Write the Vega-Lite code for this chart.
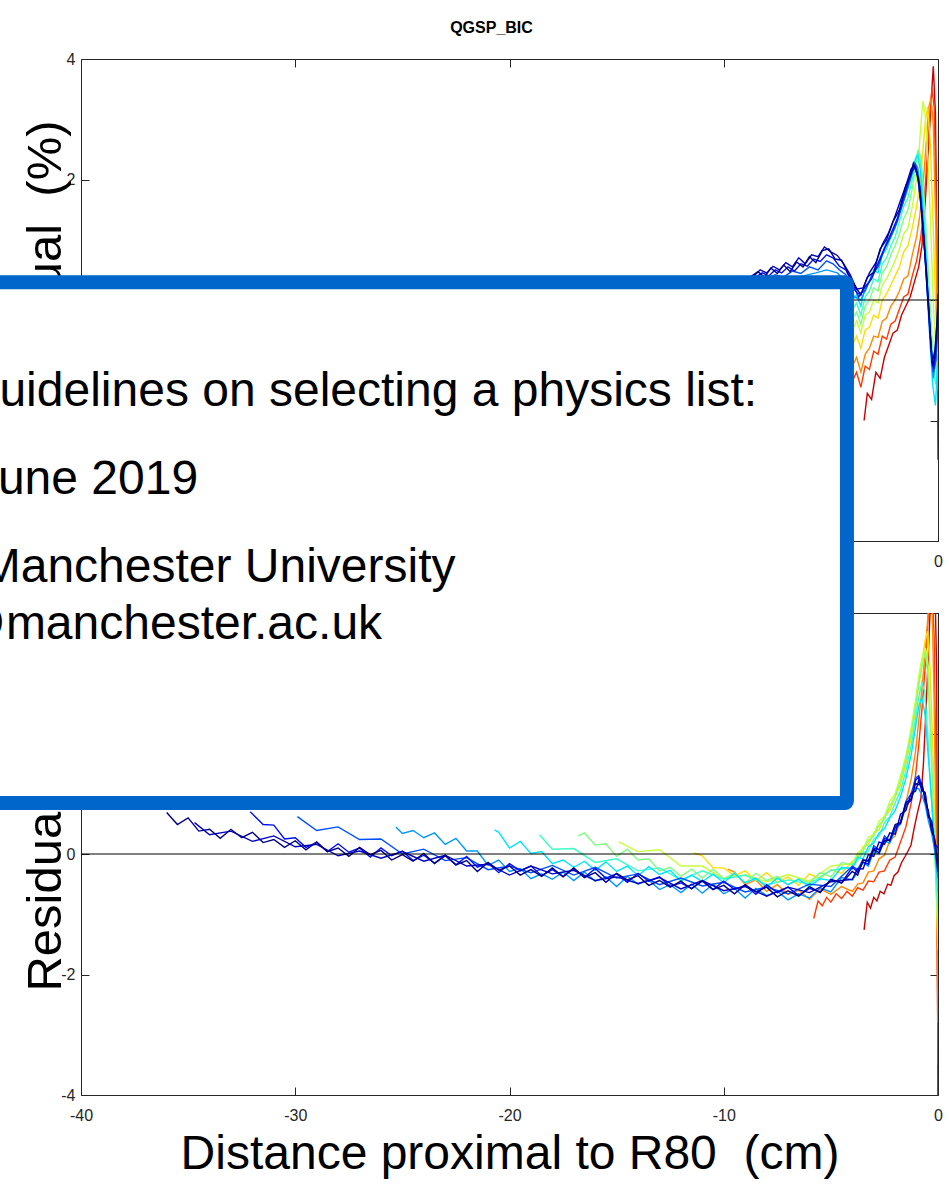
{
"$schema": "https://vega.github.io/schema/vega-lite/v6.json",
"background": "white",
"padding": {"left": -60, "top": 19, "right": 0, "bottom": 0},
"config": {
  "font": "Liberation Sans",
  "view": {"stroke": "#262626", "strokeWidth": 1},
  "axis": {"grid": false, "domain": false, "tickColor": "#262626", "tickWidth": 1, "labelColor": "#262626", "labelFont": "Liberation Sans", "labelFontSize": 16, "labelFlush": false, "titleFont": "Liberation Sans", "titleFontWeight": "normal", "titleColor": "#000000"}
},
"datasets": {
"top": [
{"s":"s01","x":-3.45,"y":-2.0},{"s":"s01","x":-3.3,"y":-1.55},{"s":"s01","x":-3.1,"y":-1.65},{"s":"s01","x":-2.9,"y":-1.2},{"s":"s01","x":-2.7,"y":-1.3},{"s":"s01","x":-2.5,"y":-0.95},{"s":"s01","x":-2.3,"y":-0.75},{"s":"s01","x":-2.1,"y":-0.55},{"s":"s01","x":-1.9,"y":-0.5},{"s":"s01","x":-1.7,"y":-0.25},{"s":"s01","x":-1.5,"y":-0.1},{"s":"s01","x":-1.3,"y":0.05},{"s":"s01","x":-1.1,"y":0.3},{"s":"s01","x":-0.9,"y":0.55},{"s":"s01","x":-0.75,"y":0.9},{"s":"s01","x":-0.6,"y":1.6},{"s":"s01","x":-0.45,"y":2.5},{"s":"s01","x":-0.32,"y":3.3},{"s":"s01","x":-0.22,"y":3.88},{"s":"s01","x":-0.12,"y":3.1},{"s":"s01","x":-0.05,"y":1.0},{"s":"s01","x":0,"y":-2.65},
{"s":"s02","x":-5.8,"y":-0.8},{"s":"s02","x":-4.3,"y":-1.1},{"s":"s02","x":-4.0,"y":-1.35},{"s":"s02","x":-3.8,"y":-1.2},{"s":"s02","x":-3.6,"y":-1.45},{"s":"s02","x":-3.4,"y":-1.1},{"s":"s02","x":-3.2,"y":-1.15},{"s":"s02","x":-3.0,"y":-0.85},{"s":"s02","x":-2.8,"y":-0.9},{"s":"s02","x":-2.6,"y":-0.6},{"s":"s02","x":-2.4,"y":-0.65},{"s":"s02","x":-2.2,"y":-0.4},{"s":"s02","x":-2.0,"y":-0.35},{"s":"s02","x":-1.8,"y":-0.15},{"s":"s02","x":-1.6,"y":0.05},{"s":"s02","x":-1.4,"y":0.1},{"s":"s02","x":-1.2,"y":0.4},{"s":"s02","x":-1.0,"y":0.65},{"s":"s02","x":-0.8,"y":1.05},{"s":"s02","x":-0.65,"y":1.6},{"s":"s02","x":-0.5,"y":2.4},{"s":"s02","x":-0.38,"y":3.1},{"s":"s02","x":-0.28,"y":3.5},{"s":"s02","x":-0.18,"y":3.2},{"s":"s02","x":-0.08,"y":1.5},{"s":"s02","x":0,"y":-2.0},
{"s":"s03","x":-9.8,"y":0.0},{"s":"s03","x":-7,"y":-0.6},{"s":"s03","x":-4.3,"y":-0.85},{"s":"s03","x":-4.0,"y":-1.1},{"s":"s03","x":-3.8,"y":-0.95},{"s":"s03","x":-3.6,"y":-1.2},{"s":"s03","x":-3.4,"y":-0.9},{"s":"s03","x":-3.2,"y":-0.8},{"s":"s03","x":-3.0,"y":-0.6},{"s":"s03","x":-2.8,"y":-0.62},{"s":"s03","x":-2.6,"y":-0.35},{"s":"s03","x":-2.4,"y":-0.3},{"s":"s03","x":-2.2,"y":-0.1},{"s":"s03","x":-2.0,"y":0.0},{"s":"s03","x":-1.8,"y":0.15},{"s":"s03","x":-1.6,"y":0.35},{"s":"s03","x":-1.4,"y":0.4},{"s":"s03","x":-1.2,"y":0.75},{"s":"s03","x":-1.0,"y":1.05},{"s":"s03","x":-0.85,"y":1.4},{"s":"s03","x":-0.7,"y":1.9},{"s":"s03","x":-0.55,"y":2.6},{"s":"s03","x":-0.43,"y":3.2},{"s":"s03","x":-0.33,"y":3.35},{"s":"s03","x":-0.22,"y":2.9},{"s":"s03","x":-0.1,"y":1.2},{"s":"s03","x":0,"y":-1.5},
{"s":"s04","x":-11.4,"y":0.0},{"s":"s04","x":-8,"y":-0.4},{"s":"s04","x":-6,"y":-0.5},{"s":"s04","x":-4.3,"y":-0.55},{"s":"s04","x":-4.0,"y":-0.75},{"s":"s04","x":-3.8,"y":-0.6},{"s":"s04","x":-3.6,"y":-0.8},{"s":"s04","x":-3.4,"y":-0.5},{"s":"s04","x":-3.2,"y":-0.45},{"s":"s04","x":-3.0,"y":-0.25},{"s":"s04","x":-2.8,"y":-0.3},{"s":"s04","x":-2.6,"y":0.0},{"s":"s04","x":-2.4,"y":0.1},{"s":"s04","x":-2.2,"y":0.25},{"s":"s04","x":-2.0,"y":0.4},{"s":"s04","x":-1.8,"y":0.55},{"s":"s04","x":-1.6,"y":0.8},{"s":"s04","x":-1.4,"y":0.9},{"s":"s04","x":-1.2,"y":1.2},{"s":"s04","x":-1.0,"y":1.55},{"s":"s04","x":-0.85,"y":1.9},{"s":"s04","x":-0.7,"y":2.5},{"s":"s04","x":-0.58,"y":3.0},{"s":"s04","x":-0.48,"y":3.2},{"s":"s04","x":-0.36,"y":2.6},{"s":"s04","x":-0.22,"y":1.2},{"s":"s04","x":-0.1,"y":-0.2},{"s":"s04","x":0,"y":-1.1},
{"s":"s05","x":-14.9,"y":0.0},{"s":"s05","x":-10,"y":-0.3},{"s":"s05","x":-7,"y":-0.4},{"s":"s05","x":-4.3,"y":-0.3},{"s":"s05","x":-4.0,"y":-0.5},{"s":"s05","x":-3.8,"y":-0.35},{"s":"s05","x":-3.6,"y":-0.55},{"s":"s05","x":-3.4,"y":-0.25},{"s":"s05","x":-3.2,"y":-0.2},{"s":"s05","x":-3.0,"y":0.0},{"s":"s05","x":-2.8,"y":-0.05},{"s":"s05","x":-2.6,"y":0.25},{"s":"s05","x":-2.4,"y":0.35},{"s":"s05","x":-2.2,"y":0.5},{"s":"s05","x":-2.0,"y":0.65},{"s":"s05","x":-1.8,"y":0.85},{"s":"s05","x":-1.6,"y":1.1},{"s":"s05","x":-1.4,"y":1.2},{"s":"s05","x":-1.2,"y":1.55},{"s":"s05","x":-1.0,"y":2.0},{"s":"s05","x":-0.88,"y":2.5},{"s":"s05","x":-0.78,"y":3.0},{"s":"s05","x":-0.7,"y":3.3},{"s":"s05","x":-0.6,"y":3.1},{"s":"s05","x":-0.48,"y":2.4},{"s":"s05","x":-0.35,"y":1.3},{"s":"s05","x":-0.2,"y":-0.2},{"s":"s05","x":-0.08,"y":-0.9},{"s":"s05","x":0,"y":-0.7},
{"s":"s06","x":-16.8,"y":0.0},{"s":"s06","x":-12,"y":-0.2},{"s":"s06","x":-8,"y":-0.3},{"s":"s06","x":-6,"y":-0.3},{"s":"s06","x":-4.3,"y":-0.15},{"s":"s06","x":-4.0,"y":-0.3},{"s":"s06","x":-3.8,"y":-0.2},{"s":"s06","x":-3.6,"y":-0.4},{"s":"s06","x":-3.4,"y":-0.1},{"s":"s06","x":-3.2,"y":0.0},{"s":"s06","x":-3.0,"y":0.2},{"s":"s06","x":-2.8,"y":0.15},{"s":"s06","x":-2.6,"y":0.45},{"s":"s06","x":-2.4,"y":0.55},{"s":"s06","x":-2.2,"y":0.75},{"s":"s06","x":-2.0,"y":0.9},{"s":"s06","x":-1.8,"y":1.1},{"s":"s06","x":-1.6,"y":1.35},{"s":"s06","x":-1.4,"y":1.5},{"s":"s06","x":-1.2,"y":1.85},{"s":"s06","x":-1.05,"y":2.2},{"s":"s06","x":-0.92,"y":2.5},{"s":"s06","x":-0.8,"y":2.35},{"s":"s06","x":-0.65,"y":1.7},{"s":"s06","x":-0.5,"y":0.8},{"s":"s06","x":-0.35,"y":-0.2},{"s":"s06","x":-0.2,"y":-1.1},{"s":"s06","x":-0.08,"y":-1.3},{"s":"s06","x":0,"y":-0.8},
{"s":"s07","x":-18.6,"y":0.0},{"s":"s07","x":-14,"y":-0.2},{"s":"s07","x":-9,"y":-0.3},{"s":"s07","x":-6,"y":-0.2},{"s":"s07","x":-4.3,"y":0.0},{"s":"s07","x":-4.0,"y":-0.15},{"s":"s07","x":-3.8,"y":-0.05},{"s":"s07","x":-3.6,"y":-0.25},{"s":"s07","x":-3.4,"y":0.05},{"s":"s07","x":-3.2,"y":0.15},{"s":"s07","x":-3.0,"y":0.35},{"s":"s07","x":-2.8,"y":0.3},{"s":"s07","x":-2.6,"y":0.6},{"s":"s07","x":-2.4,"y":0.7},{"s":"s07","x":-2.2,"y":0.9},{"s":"s07","x":-2.0,"y":1.05},{"s":"s07","x":-1.8,"y":1.3},{"s":"s07","x":-1.6,"y":1.55},{"s":"s07","x":-1.4,"y":1.7},{"s":"s07","x":-1.2,"y":2.0},{"s":"s07","x":-1.05,"y":2.3},{"s":"s07","x":-0.95,"y":2.45},{"s":"s07","x":-0.82,"y":2.3},{"s":"s07","x":-0.68,"y":1.6},{"s":"s07","x":-0.52,"y":0.6},{"s":"s07","x":-0.38,"y":-0.4},{"s":"s07","x":-0.22,"y":-1.2},{"s":"s07","x":-0.1,"y":-1.4},{"s":"s07","x":0,"y":-1.0},
{"s":"s08","x":-20.7,"y":0.0},{"s":"s08","x":-15,"y":-0.2},{"s":"s08","x":-10,"y":-0.3},{"s":"s08","x":-6,"y":-0.1},{"s":"s08","x":-4.3,"y":0.1},{"s":"s08","x":-4.0,"y":0.0},{"s":"s08","x":-3.8,"y":0.08},{"s":"s08","x":-3.6,"y":-0.1},{"s":"s08","x":-3.4,"y":0.2},{"s":"s08","x":-3.2,"y":0.3},{"s":"s08","x":-3.0,"y":0.5},{"s":"s08","x":-2.8,"y":0.45},{"s":"s08","x":-2.6,"y":0.75},{"s":"s08","x":-2.4,"y":0.85},{"s":"s08","x":-2.2,"y":1.05},{"s":"s08","x":-2.0,"y":1.2},{"s":"s08","x":-1.8,"y":1.45},{"s":"s08","x":-1.6,"y":1.7},{"s":"s08","x":-1.4,"y":1.85},{"s":"s08","x":-1.2,"y":2.1},{"s":"s08","x":-1.05,"y":2.35},{"s":"s08","x":-0.95,"y":2.4},{"s":"s08","x":-0.82,"y":2.15},{"s":"s08","x":-0.68,"y":1.4},{"s":"s08","x":-0.52,"y":0.4},{"s":"s08","x":-0.38,"y":-0.6},{"s":"s08","x":-0.25,"y":-1.4},{"s":"s08","x":-0.12,"y":-1.75},{"s":"s08","x":0,"y":-0.9},
{"s":"s09","x":-25.3,"y":0.0},{"s":"s09","x":-20,"y":-0.1},{"s":"s09","x":-14,"y":-0.05},{"s":"s09","x":-9,"y":0.1},{"s":"s09","x":-8.0,"y":0.25},{"s":"s09","x":-7.0,"y":0.32},{"s":"s09","x":-6.3,"y":0.4},{"s":"s09","x":-5.7,"y":0.45},{"s":"s09","x":-5.2,"y":0.5},{"s":"s09","x":-4.7,"y":0.45},{"s":"s09","x":-4.2,"y":0.28},{"s":"s09","x":-3.9,"y":0.05},{"s":"s09","x":-3.6,"y":0.0},{"s":"s09","x":-3.3,"y":0.25},{"s":"s09","x":-3.0,"y":0.45},{"s":"s09","x":-2.7,"y":0.7},{"s":"s09","x":-2.4,"y":0.95},{"s":"s09","x":-2.1,"y":1.15},{"s":"s09","x":-1.8,"y":1.45},{"s":"s09","x":-1.5,"y":1.75},{"s":"s09","x":-1.3,"y":2.0},{"s":"s09","x":-1.1,"y":2.28},{"s":"s09","x":-0.95,"y":2.2},{"s":"s09","x":-0.8,"y":1.8},{"s":"s09","x":-0.65,"y":1.0},{"s":"s09","x":-0.5,"y":0.1},{"s":"s09","x":-0.35,"y":-0.8},{"s":"s09","x":-0.22,"y":-1.3},{"s":"s09","x":-0.1,"y":-1.0},{"s":"s09","x":0,"y":-0.4},
{"s":"s10","x":-29.9,"y":0.05},{"s":"s10","x":-24,"y":-0.05},{"s":"s10","x":-18,"y":-0.1},{"s":"s10","x":-12,"y":0.0},{"s":"s10","x":-9,"y":0.15},{"s":"s10","x":-8.0,"y":0.35},{"s":"s10","x":-7.6,"y":0.42},{"s":"s10","x":-7.2,"y":0.38},{"s":"s10","x":-6.8,"y":0.48},{"s":"s10","x":-6.4,"y":0.44},{"s":"s10","x":-6.0,"y":0.55},{"s":"s10","x":-5.6,"y":0.5},{"s":"s10","x":-5.2,"y":0.65},{"s":"s10","x":-4.9,"y":0.6},{"s":"s10","x":-4.6,"y":0.5},{"s":"s10","x":-4.3,"y":0.42},{"s":"s10","x":-4.0,"y":0.2},{"s":"s10","x":-3.7,"y":0.1},{"s":"s10","x":-3.4,"y":0.15},{"s":"s10","x":-3.1,"y":0.4},{"s":"s10","x":-2.8,"y":0.55},{"s":"s10","x":-2.5,"y":0.85},{"s":"s10","x":-2.2,"y":1.05},{"s":"s10","x":-1.9,"y":1.3},{"s":"s10","x":-1.6,"y":1.65},{"s":"s10","x":-1.4,"y":1.9},{"s":"s10","x":-1.2,"y":2.12},{"s":"s10","x":-1.05,"y":2.25},{"s":"s10","x":-0.9,"y":2.0},{"s":"s10","x":-0.75,"y":1.5},{"s":"s10","x":-0.6,"y":0.8},{"s":"s10","x":-0.45,"y":0.0},{"s":"s10","x":-0.33,"y":-0.75},{"s":"s10","x":-0.22,"y":-1.2},{"s":"s10","x":-0.1,"y":-1.0},{"s":"s10","x":0,"y":-0.4},
{"s":"s11","x":-32.1,"y":0.1},{"s":"s11","x":-26,"y":0.0},{"s":"s11","x":-20,"y":-0.1},{"s":"s11","x":-14,"y":-0.05},{"s":"s11","x":-10,"y":0.1},{"s":"s11","x":-8.5,"y":0.38},{"s":"s11","x":-8.2,"y":0.45},{"s":"s11","x":-7.9,"y":0.4},{"s":"s11","x":-7.6,"y":0.5},{"s":"s11","x":-7.3,"y":0.45},{"s":"s11","x":-7.0,"y":0.55},{"s":"s11","x":-6.7,"y":0.48},{"s":"s11","x":-6.4,"y":0.6},{"s":"s11","x":-6.1,"y":0.56},{"s":"s11","x":-5.8,"y":0.68},{"s":"s11","x":-5.5,"y":0.64},{"s":"s11","x":-5.2,"y":0.75},{"s":"s11","x":-4.9,"y":0.7},{"s":"s11","x":-4.6,"y":0.56},{"s":"s11","x":-4.3,"y":0.5},{"s":"s11","x":-4.0,"y":0.28},{"s":"s11","x":-3.7,"y":0.05},{"s":"s11","x":-3.4,"y":0.22},{"s":"s11","x":-3.1,"y":0.35},{"s":"s11","x":-2.8,"y":0.6},{"s":"s11","x":-2.5,"y":0.85},{"s":"s11","x":-2.2,"y":1.1},{"s":"s11","x":-1.9,"y":1.35},{"s":"s11","x":-1.65,"y":1.65},{"s":"s11","x":-1.4,"y":1.95},{"s":"s11","x":-1.2,"y":2.15},{"s":"s11","x":-1.05,"y":2.2},{"s":"s11","x":-0.9,"y":1.95},{"s":"s11","x":-0.75,"y":1.4},{"s":"s11","x":-0.6,"y":0.7},{"s":"s11","x":-0.45,"y":-0.1},{"s":"s11","x":-0.32,"y":-0.8},{"s":"s11","x":-0.2,"y":-1.15},{"s":"s11","x":-0.1,"y":-0.8},{"s":"s11","x":0,"y":-0.3},
{"s":"s12","x":-34.7,"y":0.1},{"s":"s12","x":-28,"y":0.0},{"s":"s12","x":-22,"y":-0.1},{"s":"s12","x":-16,"y":-0.05},{"s":"s12","x":-11,"y":0.05},{"s":"s12","x":-9,"y":0.25},{"s":"s12","x":-8.3,"y":0.5},{"s":"s12","x":-8.0,"y":0.45},{"s":"s12","x":-7.7,"y":0.56},{"s":"s12","x":-7.4,"y":0.5},{"s":"s12","x":-7.1,"y":0.62},{"s":"s12","x":-6.8,"y":0.55},{"s":"s12","x":-6.5,"y":0.7},{"s":"s12","x":-6.2,"y":0.6},{"s":"s12","x":-5.9,"y":0.75},{"s":"s12","x":-5.6,"y":0.72},{"s":"s12","x":-5.3,"y":0.88},{"s":"s12","x":-5.0,"y":0.8},{"s":"s12","x":-4.7,"y":0.74},{"s":"s12","x":-4.4,"y":0.6},{"s":"s12","x":-4.1,"y":0.42},{"s":"s12","x":-3.8,"y":0.18},{"s":"s12","x":-3.5,"y":0.2},{"s":"s12","x":-3.2,"y":0.45},{"s":"s12","x":-2.9,"y":0.62},{"s":"s12","x":-2.6,"y":0.92},{"s":"s12","x":-2.3,"y":1.12},{"s":"s12","x":-2.0,"y":1.4},{"s":"s12","x":-1.7,"y":1.7},{"s":"s12","x":-1.45,"y":1.95},{"s":"s12","x":-1.25,"y":2.18},{"s":"s12","x":-1.1,"y":2.22},{"s":"s12","x":-0.95,"y":2.05},{"s":"s12","x":-0.8,"y":1.6},{"s":"s12","x":-0.65,"y":0.95},{"s":"s12","x":-0.5,"y":0.15},{"s":"s12","x":-0.37,"y":-0.55},{"s":"s12","x":-0.26,"y":-1.1},{"s":"s12","x":-0.14,"y":-0.95},{"s":"s12","x":-0.04,"y":-0.3},{"s":"s12","x":0,"y":0.1},
{"s":"s13","x":-36,"y":0.15},{"s":"s13","x":-30,"y":0.05},{"s":"s13","x":-24,"y":-0.05},{"s":"s13","x":-18,"y":-0.1},{"s":"s13","x":-12,"y":0.0},{"s":"s13","x":-9.5,"y":0.2},{"s":"s13","x":-8.4,"y":0.47},{"s":"s13","x":-8.1,"y":0.38},{"s":"s13","x":-7.8,"y":0.53},{"s":"s13","x":-7.5,"y":0.44},{"s":"s13","x":-7.2,"y":0.58},{"s":"s13","x":-6.9,"y":0.47},{"s":"s13","x":-6.6,"y":0.63},{"s":"s13","x":-6.3,"y":0.55},{"s":"s13","x":-6.0,"y":0.72},{"s":"s13","x":-5.7,"y":0.62},{"s":"s13","x":-5.4,"y":0.82},{"s":"s13","x":-5.1,"y":0.85},{"s":"s13","x":-4.8,"y":0.68},{"s":"s13","x":-4.5,"y":0.66},{"s":"s13","x":-4.2,"y":0.44},{"s":"s13","x":-3.9,"y":0.25},{"s":"s13","x":-3.6,"y":0.08},{"s":"s13","x":-3.3,"y":0.38},{"s":"s13","x":-3.0,"y":0.46},{"s":"s13","x":-2.7,"y":0.85},{"s":"s13","x":-2.4,"y":1.0},{"s":"s13","x":-2.1,"y":1.3},{"s":"s13","x":-1.8,"y":1.5},{"s":"s13","x":-1.5,"y":1.9},{"s":"s13","x":-1.3,"y":2.05},{"s":"s13","x":-1.15,"y":2.27},{"s":"s13","x":-1.0,"y":2.15},{"s":"s13","x":-0.85,"y":1.88},{"s":"s13","x":-0.7,"y":1.2},{"s":"s13","x":-0.55,"y":0.5},{"s":"s13","x":-0.4,"y":-0.3},{"s":"s13","x":-0.28,"y":-1.05},{"s":"s13","x":-0.15,"y":-0.85},{"s":"s13","x":-0.05,"y":-0.4},{"s":"s13","x":0,"y":-0.05}
],
"bot": [
{"s":"s01","x":-3.45,"y":-1.26},{"s":"s01","x":-3.3,"y":-0.8},{"s":"s01","x":-3.15,"y":-0.9},{"s":"s01","x":-3.0,"y":-0.72},{"s":"s01","x":-2.85,"y":-0.78},{"s":"s01","x":-2.7,"y":-0.62},{"s":"s01","x":-2.52,"y":-0.66},{"s":"s01","x":-2.35,"y":-0.5},{"s":"s01","x":-2.2,"y":-0.52},{"s":"s01","x":-2.05,"y":-0.36},{"s":"s01","x":-1.87,"y":-0.3},{"s":"s01","x":-1.7,"y":-0.14},{"s":"s01","x":-1.55,"y":-0.05},{"s":"s01","x":-1.4,"y":0.05},{"s":"s01","x":-1.26,"y":0.15},{"s":"s01","x":-1.1,"y":0.45},{"s":"s01","x":-0.95,"y":0.7},{"s":"s01","x":-0.8,"y":0.92},{"s":"s01","x":-0.68,"y":1.5},{"s":"s01","x":-0.56,"y":2.4},{"s":"s01","x":-0.45,"y":3.3},{"s":"s01","x":-0.35,"y":4.2},{"s":"s01","x":-0.25,"y":4.6},{"s":"s01","x":-0.15,"y":4.6},{"s":"s01","x":-0.06,"y":3.0},{"s":"s01","x":0,"y":-4.6},
{"s":"s02","x":-5.8,"y":-1.07},{"s":"s02","x":-5.6,"y":-0.78},{"s":"s02","x":-5.4,"y":-0.86},{"s":"s02","x":-5.2,"y":-0.72},{"s":"s02","x":-5.0,"y":-0.8},{"s":"s02","x":-4.75,"y":-0.66},{"s":"s02","x":-4.5,"y":-0.74},{"s":"s02","x":-4.25,"y":-0.62},{"s":"s02","x":-4.0,"y":-0.7},{"s":"s02","x":-3.75,"y":-0.56},{"s":"s02","x":-3.5,"y":-0.6},{"s":"s02","x":-3.25,"y":-0.45},{"s":"s02","x":-3.0,"y":-0.46},{"s":"s02","x":-2.75,"y":-0.3},{"s":"s02","x":-2.5,"y":-0.28},{"s":"s02","x":-2.25,"y":-0.1},{"s":"s02","x":-2.0,"y":-0.05},{"s":"s02","x":-1.75,"y":0.2},{"s":"s02","x":-1.5,"y":0.45},{"s":"s02","x":-1.25,"y":0.85},{"s":"s02","x":-1.05,"y":1.3},{"s":"s02","x":-0.9,"y":1.8},{"s":"s02","x":-0.75,"y":2.4},{"s":"s02","x":-0.6,"y":3.1},{"s":"s02","x":-0.48,"y":3.8},{"s":"s02","x":-0.38,"y":4.3},{"s":"s02","x":-0.28,"y":4.5},{"s":"s02","x":-0.18,"y":3.6},{"s":"s02","x":-0.1,"y":1.5},{"s":"s02","x":0,"y":-3.5},
{"s":"s03","x":-9.8,"y":-0.25},{"s":"s03","x":-9.5,"y":-0.3},{"s":"s03","x":-9,"y":-0.51},{"s":"s03","x":-8.5,"y":-0.43},{"s":"s03","x":-8,"y":-0.62},{"s":"s03","x":-7.5,"y":-0.51},{"s":"s03","x":-7,"y":-0.67},{"s":"s03","x":-6.5,"y":-0.6},{"s":"s03","x":-6,"y":-0.75},{"s":"s03","x":-5.5,"y":-0.58},{"s":"s03","x":-5,"y":-0.67},{"s":"s03","x":-4.5,"y":-0.54},{"s":"s03","x":-4,"y":-0.62},{"s":"s03","x":-3.75,"y":-0.5},{"s":"s03","x":-3.5,"y":-0.48},{"s":"s03","x":-3.25,"y":-0.3},{"s":"s03","x":-3,"y":-0.28},{"s":"s03","x":-2.75,"y":-0.08},{"s":"s03","x":-2.5,"y":-0.02},{"s":"s03","x":-2.25,"y":0.22},{"s":"s03","x":-2,"y":0.3},{"s":"s03","x":-1.75,"y":0.55},{"s":"s03","x":-1.5,"y":0.85},{"s":"s03","x":-1.25,"y":1.25},{"s":"s03","x":-1.05,"y":1.7},{"s":"s03","x":-0.9,"y":2.2},{"s":"s03","x":-0.75,"y":2.75},{"s":"s03","x":-0.6,"y":3.35},{"s":"s03","x":-0.48,"y":3.9},{"s":"s03","x":-0.38,"y":4.3},{"s":"s03","x":-0.28,"y":4.2},{"s":"s03","x":-0.18,"y":2.5},{"s":"s03","x":-0.08,"y":0.0},{"s":"s03","x":0,"y":-2.8},
{"s":"s04","x":-11.4,"y":0.02},{"s":"s04","x":-11,"y":-0.03},{"s":"s04","x":-10.5,"y":-0.23},{"s":"s04","x":-10,"y":-0.23},{"s":"s04","x":-9.5,"y":-0.36},{"s":"s04","x":-9,"y":-0.28},{"s":"s04","x":-8.5,"y":-0.44},{"s":"s04","x":-8,"y":-0.31},{"s":"s04","x":-7.5,"y":-0.47},{"s":"s04","x":-7,"y":-0.38},{"s":"s04","x":-6.5,"y":-0.52},{"s":"s04","x":-6,"y":-0.33},{"s":"s04","x":-5.5,"y":-0.41},{"s":"s04","x":-5,"y":-0.26},{"s":"s04","x":-4.5,"y":-0.32},{"s":"s04","x":-4,"y":-0.12},{"s":"s04","x":-3.75,"y":-0.08},{"s":"s04","x":-3.5,"y":0.12},{"s":"s04","x":-3.25,"y":0.15},{"s":"s04","x":-3,"y":0.35},{"s":"s04","x":-2.75,"y":0.4},{"s":"s04","x":-2.5,"y":0.62},{"s":"s04","x":-2.25,"y":0.72},{"s":"s04","x":-2,"y":0.95},{"s":"s04","x":-1.75,"y":1.15},{"s":"s04","x":-1.5,"y":1.5},{"s":"s04","x":-1.25,"y":1.95},{"s":"s04","x":-1.05,"y":2.4},{"s":"s04","x":-0.9,"y":2.85},{"s":"s04","x":-0.75,"y":3.2},{"s":"s04","x":-0.6,"y":3.55},{"s":"s04","x":-0.48,"y":3.7},{"s":"s04","x":-0.36,"y":3.0},{"s":"s04","x":-0.22,"y":1.5},{"s":"s04","x":-0.1,"y":-0.3},{"s":"s04","x":0,"y":-1.6},
{"s":"s05","x":-14.9,"y":0.2},{"s":"s05","x":-14,"y":0.04},{"s":"s05","x":-13,"y":0.07},{"s":"s05","x":-12,"y":-0.2},{"s":"s05","x":-11,"y":-0.2},{"s":"s05","x":-10,"y":-0.41},{"s":"s05","x":-9,"y":-0.35},{"s":"s05","x":-8,"y":-0.46},{"s":"s05","x":-7,"y":-0.34},{"s":"s05","x":-6,"y":-0.45},{"s":"s05","x":-5,"y":-0.2},{"s":"s05","x":-4,"y":-0.16},{"s":"s05","x":-3.75,"y":0.02},{"s":"s05","x":-3.5,"y":0.08},{"s":"s05","x":-3.25,"y":0.28},{"s":"s05","x":-3,"y":0.32},{"s":"s05","x":-2.75,"y":0.55},{"s":"s05","x":-2.5,"y":0.62},{"s":"s05","x":-2.25,"y":0.88},{"s":"s05","x":-2,"y":1.0},{"s":"s05","x":-1.75,"y":1.3},{"s":"s05","x":-1.5,"y":1.62},{"s":"s05","x":-1.25,"y":2.1},{"s":"s05","x":-1.05,"y":2.55},{"s":"s05","x":-0.9,"y":2.95},{"s":"s05","x":-0.75,"y":3.25},{"s":"s05","x":-0.58,"y":3.42},{"s":"s05","x":-0.45,"y":3.1},{"s":"s05","x":-0.32,"y":2.0},{"s":"s05","x":-0.18,"y":0.5},{"s":"s05","x":-0.06,"y":-0.8},{"s":"s05","x":0,"y":-1.4},
{"s":"s06","x":-16.8,"y":0.3},{"s":"s06","x":-16.5,"y":0.35},{"s":"s06","x":-16,"y":0.15},{"s":"s06","x":-15.5,"y":0.17},{"s":"s06","x":-15,"y":-0.04},{"s":"s06","x":-14.5,"y":0.08},{"s":"s06","x":-14,"y":-0.1},{"s":"s06","x":-13.5,"y":-0.08},{"s":"s06","x":-13,"y":-0.28},{"s":"s06","x":-12.5,"y":-0.22},{"s":"s06","x":-12,"y":-0.37},{"s":"s06","x":-11.5,"y":-0.25},{"s":"s06","x":-11,"y":-0.4},{"s":"s06","x":-10.5,"y":-0.25},{"s":"s06","x":-10,"y":-0.41},{"s":"s06","x":-9.5,"y":-0.32},{"s":"s06","x":-9,"y":-0.48},{"s":"s06","x":-8.5,"y":-0.32},{"s":"s06","x":-8,"y":-0.44},{"s":"s06","x":-7.5,"y":-0.37},{"s":"s06","x":-7,"y":-0.51},{"s":"s06","x":-6.5,"y":-0.41},{"s":"s06","x":-6,"y":-0.48},{"s":"s06","x":-5.5,"y":-0.31},{"s":"s06","x":-5,"y":-0.38},{"s":"s06","x":-4.5,"y":-0.14},{"s":"s06","x":-4,"y":-0.18},{"s":"s06","x":-3.75,"y":-0.02},{"s":"s06","x":-3.5,"y":0.05},{"s":"s06","x":-3.25,"y":0.22},{"s":"s06","x":-3,"y":0.3},{"s":"s06","x":-2.75,"y":0.48},{"s":"s06","x":-2.5,"y":0.58},{"s":"s06","x":-2.25,"y":0.8},{"s":"s06","x":-2,"y":0.95},{"s":"s06","x":-1.75,"y":1.22},{"s":"s06","x":-1.5,"y":1.55},{"s":"s06","x":-1.25,"y":2.0},{"s":"s06","x":-1.05,"y":2.45},{"s":"s06","x":-0.9,"y":2.8},{"s":"s06","x":-0.75,"y":3.1},{"s":"s06","x":-0.6,"y":3.35},{"s":"s06","x":-0.48,"y":3.0},{"s":"s06","x":-0.35,"y":2.0},{"s":"s06","x":-0.2,"y":0.6},{"s":"s06","x":-0.08,"y":-0.6},{"s":"s06","x":0,"y":-1.2},
{"s":"s07","x":-18.6,"y":0.32},{"s":"s07","x":-18,"y":0.08},{"s":"s07","x":-17,"y":0.09},{"s":"s07","x":-16,"y":-0.14},{"s":"s07","x":-15,"y":-0.08},{"s":"s07","x":-14,"y":-0.28},{"s":"s07","x":-13,"y":-0.23},{"s":"s07","x":-12,"y":-0.43},{"s":"s07","x":-11,"y":-0.28},{"s":"s07","x":-10,"y":-0.42},{"s":"s07","x":-9,"y":-0.35},{"s":"s07","x":-8,"y":-0.51},{"s":"s07","x":-7,"y":-0.43},{"s":"s07","x":-6,"y":-0.5},{"s":"s07","x":-5,"y":-0.27},{"s":"s07","x":-4,"y":-0.22},{"s":"s07","x":-3.75,"y":-0.1},{"s":"s07","x":-3.5,"y":0.02},{"s":"s07","x":-3.25,"y":0.05},{"s":"s07","x":-3,"y":0.25},{"s":"s07","x":-2.75,"y":0.3},{"s":"s07","x":-2.5,"y":0.52},{"s":"s07","x":-2.25,"y":0.62},{"s":"s07","x":-2,"y":0.85},{"s":"s07","x":-1.75,"y":1.05},{"s":"s07","x":-1.5,"y":1.38},{"s":"s07","x":-1.25,"y":1.8},{"s":"s07","x":-1.05,"y":2.25},{"s":"s07","x":-0.9,"y":2.6},{"s":"s07","x":-0.75,"y":2.85},{"s":"s07","x":-0.62,"y":2.7},{"s":"s07","x":-0.48,"y":2.0},{"s":"s07","x":-0.32,"y":1.0},{"s":"s07","x":-0.15,"y":0.0},{"s":"s07","x":0,"y":-0.9},
{"s":"s08","x":-20.7,"y":0.4},{"s":"s08","x":-20.5,"y":0.36},{"s":"s08","x":-20,"y":0.1},{"s":"s08","x":-19.5,"y":0.21},{"s":"s08","x":-19,"y":0.01},{"s":"s08","x":-18.5,"y":0.04},{"s":"s08","x":-18,"y":-0.16},{"s":"s08","x":-17.5,"y":-0.1},{"s":"s08","x":-17,"y":-0.22},{"s":"s08","x":-16.5,"y":-0.12},{"s":"s08","x":-16,"y":-0.27},{"s":"s08","x":-15.5,"y":-0.13},{"s":"s08","x":-15,"y":-0.29},{"s":"s08","x":-14.5,"y":-0.2},{"s":"s08","x":-14,"y":-0.36},{"s":"s08","x":-13.5,"y":-0.21},{"s":"s08","x":-13,"y":-0.34},{"s":"s08","x":-12.5,"y":-0.27},{"s":"s08","x":-12,"y":-0.45},{"s":"s08","x":-11.5,"y":-0.35},{"s":"s08","x":-11,"y":-0.46},{"s":"s08","x":-10.5,"y":-0.33},{"s":"s08","x":-10,"y":-0.48},{"s":"s08","x":-9.5,"y":-0.32},{"s":"s08","x":-9,"y":-0.48},{"s":"s08","x":-8.5,"y":-0.4},{"s":"s08","x":-8,"y":-0.55},{"s":"s08","x":-7.5,"y":-0.4},{"s":"s08","x":-7,"y":-0.51},{"s":"s08","x":-6.5,"y":-0.42},{"s":"s08","x":-6,"y":-0.54},{"s":"s08","x":-5.5,"y":-0.41},{"s":"s08","x":-5,"y":-0.44},{"s":"s08","x":-4.5,"y":-0.22},{"s":"s08","x":-4,"y":-0.25},{"s":"s08","x":-3.75,"y":-0.05},{"s":"s08","x":-3.5,"y":-0.08},{"s":"s08","x":-3.25,"y":0.12},{"s":"s08","x":-3,"y":0.18},{"s":"s08","x":-2.75,"y":0.35},{"s":"s08","x":-2.5,"y":0.42},{"s":"s08","x":-2.25,"y":0.6},{"s":"s08","x":-2,"y":0.72},{"s":"s08","x":-1.75,"y":0.95},{"s":"s08","x":-1.5,"y":1.25},{"s":"s08","x":-1.25,"y":1.65},{"s":"s08","x":-1.05,"y":2.1},{"s":"s08","x":-0.9,"y":2.45},{"s":"s08","x":-0.75,"y":2.6},{"s":"s08","x":-0.6,"y":2.3},{"s":"s08","x":-0.45,"y":1.6},{"s":"s08","x":-0.3,"y":0.9},{"s":"s08","x":-0.15,"y":0.1},{"s":"s08","x":0,"y":-0.6},
{"s":"s09","x":-25.3,"y":0.45},{"s":"s09","x":-25,"y":0.34},{"s":"s09","x":-24.5,"y":0.39},{"s":"s09","x":-24,"y":0.27},{"s":"s09","x":-23.5,"y":0.35},{"s":"s09","x":-23,"y":0.16},{"s":"s09","x":-22.5,"y":0.26},{"s":"s09","x":-22,"y":0.05},{"s":"s09","x":-21.5,"y":0.05},{"s":"s09","x":-21,"y":-0.19},{"s":"s09","x":-20.5,"y":-0.1},{"s":"s09","x":-20,"y":-0.29},{"s":"s09","x":-19.5,"y":-0.24},{"s":"s09","x":-19,"y":-0.41},{"s":"s09","x":-18.5,"y":-0.33},{"s":"s09","x":-18,"y":-0.42},{"s":"s09","x":-17.5,"y":-0.3},{"s":"s09","x":-17,"y":-0.44},{"s":"s09","x":-16.5,"y":-0.3},{"s":"s09","x":-16,"y":-0.45},{"s":"s09","x":-15.5,"y":-0.38},{"s":"s09","x":-15,"y":-0.54},{"s":"s09","x":-14.5,"y":-0.37},{"s":"s09","x":-14,"y":-0.5},{"s":"s09","x":-13.5,"y":-0.43},{"s":"s09","x":-13,"y":-0.59},{"s":"s09","x":-12.5,"y":-0.51},{"s":"s09","x":-12,"y":-0.64},{"s":"s09","x":-11.5,"y":-0.5},{"s":"s09","x":-11,"y":-0.65},{"s":"s09","x":-10.5,"y":-0.5},{"s":"s09","x":-10,"y":-0.66},{"s":"s09","x":-9.5,"y":-0.57},{"s":"s09","x":-9,"y":-0.73},{"s":"s09","x":-8.5,"y":-0.57},{"s":"s09","x":-8,"y":-0.69},{"s":"s09","x":-7.5,"y":-0.62},{"s":"s09","x":-7,"y":-0.76},{"s":"s09","x":-6.5,"y":-0.66},{"s":"s09","x":-6,"y":-0.73},{"s":"s09","x":-5.5,"y":-0.56},{"s":"s09","x":-5,"y":-0.63},{"s":"s09","x":-4.5,"y":-0.39},{"s":"s09","x":-4,"y":-0.43},{"s":"s09","x":-3.75,"y":-0.3},{"s":"s09","x":-3.5,"y":-0.14},{"s":"s09","x":-3.25,"y":-0.2},{"s":"s09","x":-3,"y":0.05},{"s":"s09","x":-2.75,"y":0.0},{"s":"s09","x":-2.5,"y":0.22},{"s":"s09","x":-2.25,"y":0.18},{"s":"s09","x":-2,"y":0.4},{"s":"s09","x":-1.75,"y":0.5},{"s":"s09","x":-1.5,"y":0.78},{"s":"s09","x":-1.25,"y":0.92},{"s":"s09","x":-1.05,"y":1.1},{"s":"s09","x":-0.9,"y":1.08},{"s":"s09","x":-0.75,"y":0.98},{"s":"s09","x":-0.6,"y":0.82},{"s":"s09","x":-0.45,"y":0.55},{"s":"s09","x":-0.3,"y":0.35},{"s":"s09","x":-0.15,"y":0.05},{"s":"s09","x":0,"y":-0.4},
{"s":"s10","x":-29.9,"y":0.62},{"s":"s10","x":-29,"y":0.39},{"s":"s10","x":-28,"y":0.45},{"s":"s10","x":-27,"y":0.24},{"s":"s10","x":-26,"y":0.25},{"s":"s10","x":-25,"y":0.0},{"s":"s10","x":-24,"y":0.08},{"s":"s10","x":-23,"y":-0.11},{"s":"s10","x":-22,"y":-0.06},{"s":"s10","x":-21,"y":-0.26},{"s":"s10","x":-20,"y":-0.2},{"s":"s10","x":-19,"y":-0.31},{"s":"s10","x":-18,"y":-0.19},{"s":"s10","x":-17,"y":-0.35},{"s":"s10","x":-16,"y":-0.22},{"s":"s10","x":-15,"y":-0.4},{"s":"s10","x":-14,"y":-0.33},{"s":"s10","x":-13,"y":-0.51},{"s":"s10","x":-12,"y":-0.4},{"s":"s10","x":-11,"y":-0.53},{"s":"s10","x":-10,"y":-0.47},{"s":"s10","x":-9,"y":-0.63},{"s":"s10","x":-8,"y":-0.55},{"s":"s10","x":-7,"y":-0.66},{"s":"s10","x":-6,"y":-0.5},{"s":"s10","x":-5,"y":-0.54},{"s":"s10","x":-4,"y":-0.2},{"s":"s10","x":-3.75,"y":-0.26},{"s":"s10","x":-3.5,"y":-0.09},{"s":"s10","x":-3.25,"y":-0.13},{"s":"s10","x":-3,"y":0.14},{"s":"s10","x":-2.75,"y":0.07},{"s":"s10","x":-2.5,"y":0.3},{"s":"s10","x":-2.25,"y":0.22},{"s":"s10","x":-2,"y":0.46},{"s":"s10","x":-1.75,"y":0.51},{"s":"s10","x":-1.5,"y":0.87},{"s":"s10","x":-1.25,"y":1.0},{"s":"s10","x":-1.05,"y":1.26},{"s":"s10","x":-0.9,"y":1.3},{"s":"s10","x":-0.75,"y":1.14},{"s":"s10","x":-0.6,"y":0.95},{"s":"s10","x":-0.45,"y":0.65},{"s":"s10","x":-0.3,"y":0.5},{"s":"s10","x":-0.15,"y":0.2},{"s":"s10","x":0,"y":-0.1},
{"s":"s11","x":-32.1,"y":0.7},{"s":"s11","x":-31.5,"y":0.49},{"s":"s11","x":-31,"y":0.48},{"s":"s11","x":-30.5,"y":0.25},{"s":"s11","x":-30,"y":0.27},{"s":"s11","x":-29.5,"y":0.11},{"s":"s11","x":-29,"y":0.19},{"s":"s11","x":-28.5,"y":0.04},{"s":"s11","x":-28,"y":0.17},{"s":"s11","x":-27.5,"y":0.03},{"s":"s11","x":-27,"y":0.1},{"s":"s11","x":-26.5,"y":-0.05},{"s":"s11","x":-26,"y":0.1},{"s":"s11","x":-25.5,"y":-0.03},{"s":"s11","x":-25,"y":0.05},{"s":"s11","x":-24.5,"y":-0.11},{"s":"s11","x":-24,"y":-0.02},{"s":"s11","x":-23.5,"y":-0.15},{"s":"s11","x":-23,"y":-0.03},{"s":"s11","x":-22.5,"y":-0.18},{"s":"s11","x":-22,"y":-0.04},{"s":"s11","x":-21.5,"y":-0.22},{"s":"s11","x":-21,"y":-0.15},{"s":"s11","x":-20.5,"y":-0.31},{"s":"s11","x":-20,"y":-0.16},{"s":"s11","x":-19.5,"y":-0.28},{"s":"s11","x":-19,"y":-0.2},{"s":"s11","x":-18.5,"y":-0.36},{"s":"s11","x":-18,"y":-0.26},{"s":"s11","x":-17.5,"y":-0.37},{"s":"s11","x":-17,"y":-0.24},{"s":"s11","x":-16.5,"y":-0.39},{"s":"s11","x":-16,"y":-0.24},{"s":"s11","x":-15.5,"y":-0.4},{"s":"s11","x":-15,"y":-0.33},{"s":"s11","x":-14.5,"y":-0.47},{"s":"s11","x":-14,"y":-0.32},{"s":"s11","x":-13.5,"y":-0.45},{"s":"s11","x":-13,"y":-0.38},{"s":"s11","x":-12.5,"y":-0.54},{"s":"s11","x":-12,"y":-0.48},{"s":"s11","x":-11.5,"y":-0.57},{"s":"s11","x":-11,"y":-0.45},{"s":"s11","x":-10.5,"y":-0.59},{"s":"s11","x":-10,"y":-0.45},{"s":"s11","x":-9.5,"y":-0.59},{"s":"s11","x":-9,"y":-0.52},{"s":"s11","x":-8.5,"y":-0.67},{"s":"s11","x":-8,"y":-0.51},{"s":"s11","x":-7.5,"y":-0.64},{"s":"s11","x":-7,"y":-0.55},{"s":"s11","x":-6.5,"y":-0.69},{"s":"s11","x":-6,"y":-0.57},{"s":"s11","x":-5.5,"y":-0.63},{"s":"s11","x":-5,"y":-0.43},{"s":"s11","x":-4.5,"y":-0.48},{"s":"s11","x":-4,"y":-0.22},{"s":"s11","x":-3.75,"y":-0.3},{"s":"s11","x":-3.5,"y":-0.13},{"s":"s11","x":-3.25,"y":-0.17},{"s":"s11","x":-3,"y":0.1},{"s":"s11","x":-2.75,"y":0.07},{"s":"s11","x":-2.5,"y":0.26},{"s":"s11","x":-2.25,"y":0.22},{"s":"s11","x":-2,"y":0.44},{"s":"s11","x":-1.75,"y":0.51},{"s":"s11","x":-1.5,"y":0.82},{"s":"s11","x":-1.25,"y":0.89},{"s":"s11","x":-1.05,"y":1.22},{"s":"s11","x":-0.9,"y":1.28},{"s":"s11","x":-0.75,"y":1.08},{"s":"s11","x":-0.6,"y":1.0},{"s":"s11","x":-0.45,"y":0.61},{"s":"s11","x":-0.3,"y":0.53},{"s":"s11","x":-0.15,"y":0.17},{"s":"s11","x":0,"y":0.1},
{"s":"s12","x":-34.7,"y":0.52},{"s":"s12","x":-34,"y":0.32},{"s":"s12","x":-33,"y":0.38},{"s":"s12","x":-32,"y":0.21},{"s":"s12","x":-31,"y":0.3},{"s":"s12","x":-30,"y":0.12},{"s":"s12","x":-29,"y":0.16},{"s":"s12","x":-28,"y":-0.03},{"s":"s12","x":-27,"y":0.05},{"s":"s12","x":-26,"y":-0.07},{"s":"s12","x":-25,"y":0.04},{"s":"s12","x":-24,"y":-0.12},{"s":"s12","x":-23,"y":-0.02},{"s":"s12","x":-22,"y":-0.2},{"s":"s12","x":-21,"y":-0.17},{"s":"s12","x":-20,"y":-0.35},{"s":"s12","x":-19,"y":-0.2},{"s":"s12","x":-18,"y":-0.33},{"s":"s12","x":-17,"y":-0.27},{"s":"s12","x":-16,"y":-0.44},{"s":"s12","x":-15,"y":-0.38},{"s":"s12","x":-14,"y":-0.49},{"s":"s12","x":-13,"y":-0.39},{"s":"s12","x":-12,"y":-0.58},{"s":"s12","x":-11,"y":-0.44},{"s":"s12","x":-10,"y":-0.61},{"s":"s12","x":-9,"y":-0.54},{"s":"s12","x":-8,"y":-0.7},{"s":"s12","x":-7,"y":-0.55},{"s":"s12","x":-6,"y":-0.64},{"s":"s12","x":-5,"y":-0.46},{"s":"s12","x":-4,"y":-0.42},{"s":"s12","x":-3.75,"y":-0.24},{"s":"s12","x":-3.5,"y":-0.25},{"s":"s12","x":-3.25,"y":-0.01},{"s":"s12","x":-3,"y":-0.04},{"s":"s12","x":-2.75,"y":0.2},{"s":"s12","x":-2.5,"y":0.16},{"s":"s12","x":-2.25,"y":0.35},{"s":"s12","x":-2,"y":0.33},{"s":"s12","x":-1.75,"y":0.66},{"s":"s12","x":-1.5,"y":0.72},{"s":"s12","x":-1.25,"y":1.01},{"s":"s12","x":-1.05,"y":1.04},{"s":"s12","x":-0.9,"y":1.22},{"s":"s12","x":-0.75,"y":1.05},{"s":"s12","x":-0.6,"y":1.02},{"s":"s12","x":-0.45,"y":0.64},{"s":"s12","x":-0.3,"y":0.55},{"s":"s12","x":-0.15,"y":0.16},{"s":"s12","x":0,"y":-0.3},
{"s":"s13","x":-36,"y":0.69},{"s":"s13","x":-35.5,"y":0.49},{"s":"s13","x":-35,"y":0.6},{"s":"s13","x":-34.5,"y":0.38},{"s":"s13","x":-34,"y":0.41},{"s":"s13","x":-33.5,"y":0.26},{"s":"s13","x":-33,"y":0.41},{"s":"s13","x":-32.5,"y":0.27},{"s":"s13","x":-32,"y":0.36},{"s":"s13","x":-31.5,"y":0.19},{"s":"s13","x":-31,"y":0.24},{"s":"s13","x":-30.5,"y":0.11},{"s":"s13","x":-30,"y":0.22},{"s":"s13","x":-29.5,"y":0.07},{"s":"s13","x":-29,"y":0.2},{"s":"s13","x":-28.5,"y":0.04},{"s":"s13","x":-28,"y":0.1},{"s":"s13","x":-27.5,"y":-0.04},{"s":"s13","x":-27,"y":0.11},{"s":"s13","x":-26.5,"y":-0.01},{"s":"s13","x":-26,"y":0.06},{"s":"s13","x":-25.5,"y":-0.1},{"s":"s13","x":-25,"y":-0.01},{"s":"s13","x":-24.5,"y":-0.12},{"s":"s13","x":-24,"y":0.01},{"s":"s13","x":-23.5,"y":-0.16},{"s":"s13","x":-23,"y":-0.02},{"s":"s13","x":-22.5,"y":-0.18},{"s":"s13","x":-22,"y":-0.11},{"s":"s13","x":-21.5,"y":-0.29},{"s":"s13","x":-21,"y":-0.14},{"s":"s13","x":-20.5,"y":-0.27},{"s":"s13","x":-20,"y":-0.2},{"s":"s13","x":-19.5,"y":-0.35},{"s":"s13","x":-19,"y":-0.26},{"s":"s13","x":-18.5,"y":-0.37},{"s":"s13","x":-18,"y":-0.23},{"s":"s13","x":-17.5,"y":-0.38},{"s":"s13","x":-17,"y":-0.23},{"s":"s13","x":-16.5,"y":-0.39},{"s":"s13","x":-16,"y":-0.31},{"s":"s13","x":-15.5,"y":-0.47},{"s":"s13","x":-15,"y":-0.32},{"s":"s13","x":-14.5,"y":-0.43},{"s":"s13","x":-14,"y":-0.36},{"s":"s13","x":-13.5,"y":-0.52},{"s":"s13","x":-13,"y":-0.44},{"s":"s13","x":-12.5,"y":-0.55},{"s":"s13","x":-12,"y":-0.45},{"s":"s13","x":-11.5,"y":-0.58},{"s":"s13","x":-11,"y":-0.44},{"s":"s13","x":-10.5,"y":-0.59},{"s":"s13","x":-10,"y":-0.52},{"s":"s13","x":-9.5,"y":-0.66},{"s":"s13","x":-9,"y":-0.51},{"s":"s13","x":-8.5,"y":-0.63},{"s":"s13","x":-8,"y":-0.55},{"s":"s13","x":-7.5,"y":-0.71},{"s":"s13","x":-7,"y":-0.61},{"s":"s13","x":-6.5,"y":-0.7},{"s":"s13","x":-6,"y":-0.54},{"s":"s13","x":-5.5,"y":-0.64},{"s":"s13","x":-5,"y":-0.42},{"s":"s13","x":-4.5,"y":-0.48},{"s":"s13","x":-4,"y":-0.29},{"s":"s13","x":-3.75,"y":-0.35},{"s":"s13","x":-3.5,"y":-0.1},{"s":"s13","x":-3.25,"y":-0.11},{"s":"s13","x":-3,"y":0.08},{"s":"s13","x":-2.75,"y":0.02},{"s":"s13","x":-2.5,"y":0.22},{"s":"s13","x":-2.25,"y":0.23},{"s":"s13","x":-2,"y":0.49},{"s":"s13","x":-1.75,"y":0.52},{"s":"s13","x":-1.5,"y":0.85},{"s":"s13","x":-1.25,"y":0.91},{"s":"s13","x":-1.05,"y":1.17},{"s":"s13","x":-0.9,"y":1.15},{"s":"s13","x":-0.75,"y":1.18},{"s":"s13","x":-0.6,"y":0.87},{"s":"s13","x":-0.45,"y":0.72},{"s":"s13","x":-0.3,"y":0.38},{"s":"s13","x":-0.15,"y":0.25},{"s":"s13","x":0,"y":-0.2}
]
},
"spacing": 72,
"bounds": "flush",
"vconcat": [
{
  "width": 857, "height": 482,
  "title": {"text": "QGSP_BIC", "fontSize": 16, "fontWeight": "bold", "font": "Liberation Sans", "color": "#000000", "offset": 15, "dx": -18, "anchor": "middle"},
  "resolve": {"axis": {"x": "independent", "y": "independent"}},
  "layer": [
    {"data": {"name": "top"},
     "mark": {"type": "line", "clip": true, "strokeWidth": 1.4},
     "encoding": {
       "x": {"field": "x", "type": "quantitative", "scale": {"domain": [-40, 0], "nice": false, "zero": false},
             "axis": {"orient": "bottom", "values": [-40, -30, -20, -10, 0], "tickSize": -8, "labelPadding": 20, "labelExpr": "'' + datum.value", "title": null}},
       "y": {"field": "y", "type": "quantitative", "scale": {"domain": [-4, 4], "nice": false, "zero": false},
             "axis": {"orient": "left", "values": [-4, -2, 0, 2, 4], "tickSize": -8, "labelPadding": 14, "labelExpr": "'' + datum.value", "title": "Residual\u00a0\u00a0(%)", "titleFontSize": 49, "titleAngle": -90, "titleX": -21, "titleY": 208, "titleAlign": "center", "titleBaseline": "alphabetic"}},
       "color": {"field": "s", "type": "nominal", "legend": null,
                 "scale": {"domain": ["s01","s02","s03","s04","s05","s06","s07","s08","s09","s10","s11","s12","s13"],
                           "range": ["#C80000","#FF3A00","#FF8A00","#FFDD00","#C6FF38","#80FF7F","#3CFFC3","#00E4FF","#0098FF","#0050FF","#0010F4","#0000C4","#000088"]}}
     }},
    {"data": {"values": [{}]},
     "mark": {"type": "rule", "color": "#000000", "strokeWidth": 1},
     "encoding": {
       "x": {"datum": -40, "type": "quantitative", "scale": {"domain": [-40, 0], "nice": false, "zero": false},
             "axis": {"orient": "top", "values": [-40, -30, -20, -10, 0], "tickSize": -8, "labels": false, "title": null}},
       "x2": {"datum": 0},
       "y": {"datum": 0, "type": "quantitative", "scale": {"domain": [-4, 4], "nice": false, "zero": false},
             "axis": {"orient": "right", "values": [-4, -2, 0, 2, 4], "tickSize": -8, "labels": false, "title": null}}
     }}
  ]
},
{
  "width": 857, "height": 482,
  "resolve": {"axis": {"x": "independent", "y": "independent"}},
  "layer": [
    {"data": {"name": "bot"},
     "mark": {"type": "line", "clip": true, "strokeWidth": 1.4},
     "encoding": {
       "x": {"field": "x", "type": "quantitative", "scale": {"domain": [-40, 0], "nice": false, "zero": false},
             "axis": {"orient": "bottom", "values": [-40, -30, -20, -10, 0], "tickSize": -8, "labelPadding": 20, "labelExpr": "'' + datum.value", "title": "Distance proximal to R80\u00a0\u00a0(cm)", "titleFontSize": 48, "titleY": 73, "titleBaseline": "alphabetic"}},
       "y": {"field": "y", "type": "quantitative", "scale": {"domain": [-4, 4], "nice": false, "zero": false},
             "axis": {"orient": "left", "values": [-4, -2, 0, 2, 4], "tickSize": -8, "labelPadding": 14, "labelExpr": "'' + datum.value", "title": "Residual\u00a0\u00a0(%)", "titleFontSize": 49, "titleAngle": -90, "titleX": -21, "titleY": 231, "titleAlign": "center", "titleBaseline": "alphabetic"}},
       "color": {"field": "s", "type": "nominal", "legend": null,
                 "scale": {"domain": ["s01","s02","s03","s04","s05","s06","s07","s08","s09","s10","s11","s12","s13"],
                           "range": ["#C80000","#FF3A00","#FF8A00","#FFDD00","#C6FF38","#80FF7F","#3CFFC3","#00E4FF","#0098FF","#0050FF","#0010F4","#0000C4","#000088"]}}
     }},
    {"data": {"values": [{}]},
     "mark": {"type": "rule", "color": "#000000", "strokeWidth": 1},
     "encoding": {
       "x": {"datum": -40, "type": "quantitative", "scale": {"domain": [-40, 0], "nice": false, "zero": false},
             "axis": {"orient": "top", "values": [-40, -30, -20, -10, 0], "tickSize": -8, "labels": false, "title": null}},
       "x2": {"datum": 0},
       "y": {"datum": 0, "type": "quantitative", "scale": {"domain": [-4, 4], "nice": false, "zero": false},
             "axis": {"orient": "right", "values": [-4, -2, 0, 2, 4], "tickSize": -8, "labels": false, "title": null}}
     }},
    {"data": {"values": [{}]},
     "mark": {"type": "rect", "fill": "#FFFFFF", "stroke": "#0066CC", "strokeWidth": 14, "cornerRadius": 2, "clip": false},
     "encoding": {
       "x": {"datum": -46.21, "type": "quantitative", "axis": null},
       "x2": {"datum": -4.25},
       "y": {"datum": 9.49, "type": "quantitative", "axis": null},
       "y2": {"datum": 0.846}
     }},
    {"data": {"values": [{}]},
     "mark": {"type": "text", "align": "left", "baseline": "alphabetic", "fontSize": 48, "font": "Liberation Sans", "color": "#000000", "clip": false},
     "encoding": {"x": {"datum": -45.55, "type": "quantitative", "axis": null}, "y": {"datum": 7.436, "type": "quantitative", "axis": null}, "text": {"value": "Guidelines on selecting a physics list:"}}},
    {"data": {"values": [{}]},
     "mark": {"type": "text", "align": "left", "baseline": "alphabetic", "fontSize": 48, "font": "Liberation Sans", "color": "#000000", "clip": false},
     "encoding": {"x": {"datum": -45.0, "type": "quantitative", "axis": null}, "y": {"datum": 5.975, "type": "quantitative", "axis": null}, "text": {"value": "June 2019"}}},
    {"data": {"values": [{}]},
     "mark": {"type": "text", "align": "left", "baseline": "alphabetic", "fontSize": 48, "font": "Liberation Sans", "color": "#000000", "clip": false},
     "encoding": {"x": {"datum": -44.68, "type": "quantitative", "axis": null}, "y": {"datum": 4.515, "type": "quantitative", "axis": null}, "text": {"value": "Manchester University"}}},
    {"data": {"values": [{}]},
     "mark": {"type": "text", "align": "left", "baseline": "alphabetic", "fontSize": 48, "font": "Liberation Sans", "color": "#000000", "clip": false},
     "encoding": {"x": {"datum": -45.78, "type": "quantitative", "axis": null}, "y": {"datum": 3.568, "type": "quantitative", "axis": null}, "text": {"value": "@manchester.ac.uk"}}}
  ]
}
]
}
